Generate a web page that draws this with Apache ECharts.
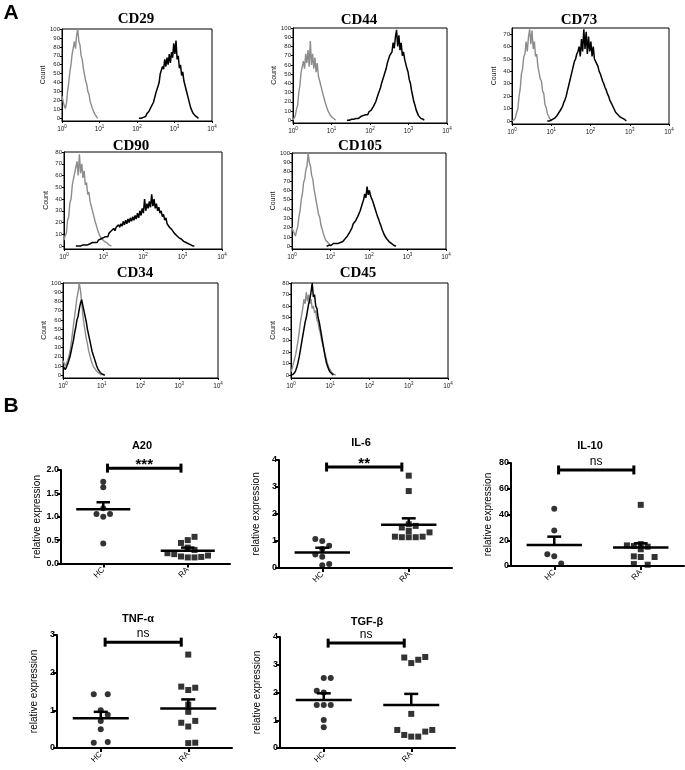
<!DOCTYPE html>
<html><head><meta charset="utf-8">
<script src="https://cdn.jsdelivr.net/npm/echarts@6/dist/echarts.min.js"></script>
<style>html,body{margin:0;padding:0;background:#fff}#c{width:685px;height:770px}</style>
</head><body><div id="c"></div>
<script>
// ---------------- Panel A : flow cytometry histograms ----------------
// channel grid in decades (log10 of fluorescence), each histogram = start + counts per channel
const CHANNEL_STEP = 0.03;
const histNames = ['CD29','CD44','CD73','CD90','CD105','CD34','CD45'];
const histXTicks = [0,1,2,3,4];
const yTicks100 = [0,10,20,30,40,50,60,70,80,90,100];
const yTicks80 = [0,10,20,30,40,50,60,70,80];
const yTicks70 = [0,10,20,30,40,50,60,70];
const histYMax = [100,100,75,80,100,100,80];

const cd29GrayStart = 0;
const cd29Gray = [25,19,14,11,17,31,40,52,60,72,74,86,78,93,100,86,82,70,66,56,54,42,38,30,27,19,17,11,8,5,3,1,0];
const cd29BlackStart = 2.05;
const cd29Black = [0,1,0,2,1,3,2,5,4,8,9,13,12,18,20,28,26,36,40,50,48,58,55,66,58,68,60,72,62,74,68,84,72,87,66,70,56,60,48,52,42,44,32,30,22,20,12,10,6,5,3,2,1,0];

const cd44GrayStart = 0;
const cd44Gray = [0,2,5,12,16,30,38,52,54,64,56,72,62,76,58,86,60,72,56,68,52,62,48,48,38,38,28,28,19,17,11,10,6,4,3,2,1,0];
const cd44BlackStart = 1.40;
const cd44Black = [0,1,0,1,1,2,1,2,2,3,2,3,4,3,5,4,6,7,6,9,8,11,12,15,17,20,24,28,30,35,40,42,48,52,56,62,66,70,72,74,84,78,90,98,80,92,76,84,70,74,66,64,56,52,44,40,32,26,20,16,11,8,5,4,2,1,1,0];

const cd73GrayStart = 0;
const cd73Gray = [0,0,1,3,7,10,20,26,38,42,52,54,64,56,68,74,62,73,58,64,52,54,44,44,34,32,24,22,13,11,6,4,2,1,0];
const cd73BlackStart = 0.90;
const cd73Black = [0,1,0,1,1,2,2,3,4,5,7,8,10,12,15,17,20,24,28,32,36,40,44,48,50,54,56,60,52,66,56,74,58,72,54,68,56,64,52,60,50,48,46,44,40,38,35,32,30,27,25,22,20,17,15,13,11,9,7,6,5,4,3,2,2,1,1,0];

const cd90GrayStart = 0;
const cd90Gray = [5,9,11,22,25,37,40,52,53,62,62,72,60,78,62,70,58,64,52,54,44,46,38,37,30,29,22,21,15,14,9,8,6,5,4,3,3,2,1,1,0];
const cd90BlackStart = 0.30;
const cd90Black = [0,1,0,1,0,1,1,0,1,2,1,2,2,1,3,2,3,4,3,5,4,6,5,7,
  6,8,9,8,11,10,13,12,15,13,16,15,18,16,19,17,21,18,22,19,23,20,24,21,25,22,26,23,28,24,30,26,32,
  28,40,30,36,32,38,33,44,34,40,32,36,30,33,28,30,25,27,22,24,19,20,16,17,14,14,11,12,9,10,7,8,6,5,4,4,3,2,2,1,1,1,0,0];

const cd105GrayStart = 0;
const cd105Gray = [20,16,14,11,17,21,32,38,50,56,68,72,82,86,100,90,86,76,72,62,60,48,46,34,31,23,21,14,12,7,5,4,2,1,0];
const cd105BlackStart = 0.90;
const cd105Black = [0,1,1,2,1,2,3,2,3,4,3,5,4,6,5,7,8,9,11,12,15,17,20,24,22,27,28,32,34,38,42,46,50,56,52,64,55,60,54,56,48,46,40,38,32,29,25,22,18,15,12,10,8,6,5,4,3,2,1,1,0];

const cd34GrayStart = 0;
const cd34Gray = [16,13,10,12,16,20,26,34,44,54,64,74,84,90,100,92,80,66,56,48,40,34,27,22,17,13,10,8,6,4,3,2,1,0];
const cd34BlackStart = 0;
const cd34Black = [10,8,6,9,12,16,20,26,32,38,46,52,60,64,72,78,82,76,70,64,58,50,44,38,32,26,22,18,14,10,7,5,3,2,1,1,0];

const cd45GrayStart = 0;
const cd45Gray = [3,6,10,14,18,24,30,38,46,52,58,66,62,72,64,70,62,66,58,60,54,56,48,46,40,36,30,26,22,18,14,10,7,5,3,2,1,1,0];
const cd45BlackStart = 0.03;
const cd45Black = [0,1,2,4,7,11,16,22,28,34,40,46,50,56,62,66,72,80,68,70,60,58,50,46,40,34,28,22,16,11,8,5,3,2,1,0];

const histGray = [[cd29GrayStart,cd29Gray],[cd44GrayStart,cd44Gray],[cd73GrayStart,cd73Gray],[cd90GrayStart,cd90Gray],[cd105GrayStart,cd105Gray],[cd34GrayStart,cd34Gray],[cd45GrayStart,cd45Gray]];
const histBlack = [[cd29BlackStart,cd29Black],[cd44BlackStart,cd44Black],[cd73BlackStart,cd73Black],[cd90BlackStart,cd90Black],[cd105BlackStart,cd105Black],[cd34BlackStart,cd34Black],[cd45BlackStart,cd45Black]];
const histYTicks = [yTicks100,yTicks100,yTicks70,yTicks80,yTicks100,yTicks100,yTicks80];

// ---------------- Panel B : relative expression ----------------
const groups = ['HC','RA'];
const a20HC = [1.75,1.63,1.18,1.06,1.00,1.06,0.43];
const a20HCSlot = [0,0,0,-1,0,1,0];
const a20RA = [0.57,0.50,0.44,0.34,0.29,0.22,0.20,0.15,0.13,0.13,0.14,0.17];
const a20RASlot = [1,0,-1,0,1,-3,-2,-1,0,1,2,3];
const a20Mean = [1.16,0.275], a20SemTop = [1.31,0.34];
const a20YTicks = [0,0.5,1.0,1.5,2.0];

const il6HC = [1.07,1.00,0.82,0.70,0.50,0.42,0.15,0.10];
const il6HCSlot = [-1,0,1,0,-1,0,1,0];
const il6RA = [3.42,2.85,1.62,1.50,1.56,1.37,1.32,1.16,1.14,1.14,1.14,1.16];
const il6RASlot = [0,0,0,-1,1,0,3,-2,-1,0,1,2];
const il6Mean = [0.57,1.60], il6SemTop = [0.75,1.84];
const il6YTicks = [0,1,2,3,4];

const il10HC = [44.4,27.5,9.1,7.5,2.0];
const il10HCSlot = [0,0,-1,0,1];
const il10RA = [47.5,17.0,16.0,15.5,15.0,13.0,7.5,7.0,7.0,1.5,1.0];
const il10RASlot = [0,0,-2,-1,1,0,-1,0,2,-1,1];
const il10Mean = [16.3,14.3], il10SemTop = [22.8,17.6];
const il10YTicks = [0,20,40,60,80];

const tnfHC = [1.43,1.43,1.00,0.88,0.72,0.50,0.14,0.16];
const tnfHCSlot = [-1,1,0,1,0,0,-1,1];
const tnfRA = [2.48,1.63,1.60,1.54,1.15,0.96,0.67,0.72,0.57,0.13,0.14];
const tnfRASlot = [0,-1,1,0,0,0,-1,1,0,0,1];
const tnfMean = [0.79,1.05], tnfSemTop = [0.96,1.29];
const tnfYTicks = [0,1,2,3];

const tgfHC = [2.52,2.52,2.06,2.00,1.55,1.55,1.55,1.01,0.75];
const tgfHCSlot = [0,1,-1,0,-1,0,1,0,0];
const tgfRA = [3.26,3.06,3.18,3.28,1.23,0.65,0.47,0.41,0.41,0.59,0.65];
const tgfRASlot = [-1,0,1,2,0,-2,-1,0,1,2,3];
const tgfMean = [1.73,1.55], tgfSemTop = [1.97,1.95];
const tgfYTicks = [0,1,2,3,4];

const bTitles = ['A20','IL-6','IL-10','TNF-\u03b1','TGF-\u03b2'];
const bSigText = ['***','**','ns','ns','ns'];
const bSigY = [2.04,3.74,74.6,2.81,3.78];
const sigX = [1.05,1.92];

// ---------------- layout (pixels) ----------------
const histGrid = [[62,29,150,92],[293,28,154,95],[512,28,157,96],[64,152,158,97],[292,153,154,96],[63,283,155,95],[291,283,157,95]];
const histTitlePos = [[136,19],[359,20],[579,20],[131,146],[360,146],[135,273],[358,273]];
const bGrid = [[61,470,169,93.5],[279,460,173,108],[511,463,173,103],[57,635,175,113],[280,637,175,111]];
const bTitlePos = [[142,446],[361,443],[590,446],[138,619],[367,622]];
const SLOT = 0.08, MEAN_HALF = 0.32, CAP_HALF = 0.08;

const grids=[], xAxes=[], yAxes=[], series=[], graphics=[];
const sans = 'Liberation Sans, Arial, sans-serif';

histNames.forEach((name,i)=>{
  const g = histGrid[i];
  grids.push({left:g[0],top:g[1],width:g[2],height:g[3],show:true,borderColor:'#000',borderWidth:1,backgroundColor:'rgba(0,0,0,0)'});
  xAxes.push({type:'value',gridIndex:i,min:0,max:4,
    axisLine:{show:true,onZero:false,lineStyle:{color:'#000',width:1}},
    axisTick:{show:true,customValues:histXTicks,length:2,lineStyle:{color:'#000'}},
    axisLabel:{show:true,customValues:histXTicks,margin:3,color:'#000',
      formatter:v=>'{b|10}{s|'+v+'}',
      rich:{b:{fontSize:6.5,fontFamily:sans,color:'#222',verticalAlign:'bottom',lineHeight:9},
            s:{fontSize:4.5,fontFamily:sans,color:'#222',verticalAlign:'top',lineHeight:5}}},
    splitLine:{show:false}});
  const ymax = histYMax[i];
  yAxes.push({type:'value',gridIndex:i,min:ymax>=100?-3:-2.5,max:ymax,
    axisLine:{show:true,onZero:false,lineStyle:{color:'#000',width:1}},
    axisTick:{show:true,customValues:histYTicks[i],length:2,lineStyle:{color:'#000'}},
    axisLabel:{show:true,customValues:histYTicks[i],fontSize:6,fontFamily:sans,color:'#222',margin:2},
    splitLine:{show:false},
    name:'Count',nameLocation:'middle',nameGap:14,nameTextStyle:{fontSize:7,fontFamily:sans,color:'#222'}});
  const mk = (st,arr)=>arr.map((v,k)=>[st+k*CHANNEL_STEP,v]);
  series.push({type:'line',xAxisIndex:i,yAxisIndex:i,data:mk(histGray[i][0],histGray[i][1]),
    symbol:'none',lineStyle:{color:'#8c8c8c',width:1.4},silent:true,animation:false});
  series.push({type:'line',xAxisIndex:i,yAxisIndex:i,data:mk(histBlack[i][0],histBlack[i][1]),
    symbol:'none',lineStyle:{color:'#000',width:1.5},silent:true,animation:false});
  graphics.push({type:'text',x:histTitlePos[i][0],y:histTitlePos[i][1],
    style:{text:name,font:'bold 15px "Liberation Serif", "Times New Roman", serif',fill:'#000',textAlign:'center',textVerticalAlign:'middle'}});
});

const bData = [
  [a20HC,a20HCSlot,a20RA,a20RASlot,a20Mean,a20SemTop,a20YTicks,1],
  [il6HC,il6HCSlot,il6RA,il6RASlot,il6Mean,il6SemTop,il6YTicks,0],
  [il10HC,il10HCSlot,il10RA,il10RASlot,il10Mean,il10SemTop,il10YTicks,0],
  [tnfHC,tnfHCSlot,tnfRA,tnfRASlot,tnfMean,tnfSemTop,tnfYTicks,0],
  [tgfHC,tgfHCSlot,tgfRA,tgfRASlot,tgfMean,tgfSemTop,tgfYTicks,0]
];

bData.forEach((d,j)=>{
  const k = histNames.length + j;
  const g = bGrid[j];
  const [hc,hcSlot,ra,raSlot,mean,sem,ticks,dec] = d;
  grids.push({left:g[0],top:g[1],width:g[2],height:g[3]});
  xAxes.push({type:'value',gridIndex:k,min:0.5,max:2.5,
    axisLine:{show:true,onZero:false,lineStyle:{color:'#000',width:2}},
    axisTick:{show:true,customValues:[1,2],length:4,lineStyle:{color:'#000',width:2}},
    axisLabel:{show:true,customValues:[1,2],formatter:v=>groups[Math.round(v)-1],rotate:45,
      fontSize:8,fontFamily:sans,color:'#000',margin:5},
    splitLine:{show:false}});
  yAxes.push({type:'value',gridIndex:k,min:ticks[0],max:ticks[ticks.length-1],interval:ticks[1]-ticks[0],
    axisLine:{show:true,onZero:false,lineStyle:{color:'#000',width:2}},
    axisTick:{show:true,length:4,lineStyle:{color:'#000',width:2}},
    axisLabel:{fontSize:9,fontWeight:'bold',fontFamily:sans,color:'#000',margin:2,
      formatter:v=>dec?v.toFixed(1):String(v)},
    splitLine:{show:false},
    name:'relative expression',nameLocation:'middle',nameGap:18,
    nameTextStyle:{fontSize:10,fontFamily:sans,color:'#000'}});
  series.push({type:'scatter',xAxisIndex:k,yAxisIndex:k,symbol:'circle',symbolSize:6,
    itemStyle:{color:'#000'},data:hc.map((v,i)=>[1+hcSlot[i]*SLOT,v]),clip:false,animation:false,silent:true});
  series.push({type:'scatter',xAxisIndex:k,yAxisIndex:k,symbol:'rect',symbolSize:6,
    itemStyle:{color:'#000'},data:ra.map((v,i)=>[2+raSlot[i]*SLOT,v]),clip:false,animation:false,silent:true});
  series.push({type:'custom',xAxisIndex:k,yAxisIndex:k,clip:false,animation:false,silent:true,
    data:[[1,mean[0],sem[0]],[2,mean[1],sem[1]]],
    renderItem:(p,api)=>{
      const x=api.value(0),m=api.value(1),s=api.value(2);
      const a=api.coord([x-MEAN_HALF,m]),b=api.coord([x+MEAN_HALF,m]),f=api.coord([x,m]),
            c=api.coord([x,s]),l=api.coord([x-CAP_HALF,s]),r=api.coord([x+CAP_HALF,s]);
      const st={stroke:'#000',lineWidth:2.5};
      return {type:'group',children:[
        {type:'line',shape:{x1:a[0],y1:a[1],x2:b[0],y2:b[1]},style:st},
        {type:'line',shape:{x1:f[0],y1:f[1],x2:c[0],y2:c[1]},style:st},
        {type:'line',shape:{x1:l[0],y1:l[1],x2:r[0],y2:r[1]},style:st}]};
    }});
  const sig = bSigText[j];
  series.push({type:'custom',xAxisIndex:k,yAxisIndex:k,clip:false,animation:false,silent:true,
    data:[[sigX[0],sigX[1],bSigY[j]]],
    renderItem:(p,api)=>{
      const a=api.coord([api.value(0),api.value(2)]),b=api.coord([api.value(1),api.value(2)]);
      const st={stroke:'#000',lineWidth:3};
      const star = sig.indexOf('*')>=0;
      return {type:'group',children:[
        {type:'line',shape:{x1:a[0],y1:a[1],x2:b[0],y2:b[1]},style:st},
        {type:'line',shape:{x1:a[0],y1:a[1]-4.5,x2:a[0],y2:a[1]+4.5},style:st},
        {type:'line',shape:{x1:b[0],y1:b[1]-4.5,x2:b[0],y2:b[1]+4.5},style:st},
        {type:'text',style:{text:sig,x:(a[0]+b[0])/2,y:a[1]-(star?3:8),
          font:(star?'bold 15px ':'12px ')+sans,fill:'#000',textAlign:'center',textVerticalAlign:'middle'}}]};
    }});
  graphics.push({type:'text',x:bTitlePos[j][0],y:bTitlePos[j][1],
    style:{text:bTitles[j],font:'bold 11px '+sans,fill:'#000',textAlign:'center',textVerticalAlign:'middle'}});
});

graphics.push({type:'text',x:11,y:13,style:{text:'A',font:'bold 21px '+sans,fill:'#000',textAlign:'center',textVerticalAlign:'middle'}});
graphics.push({type:'text',x:11,y:406,style:{text:'B',font:'bold 21px '+sans,fill:'#000',textAlign:'center',textVerticalAlign:'middle'}});

const chart = echarts.init(document.getElementById('c'));
chart.setOption({animation:false,grid:grids,xAxis:xAxes,yAxis:yAxes,series:series,graphic:graphics});
</script></body></html>
